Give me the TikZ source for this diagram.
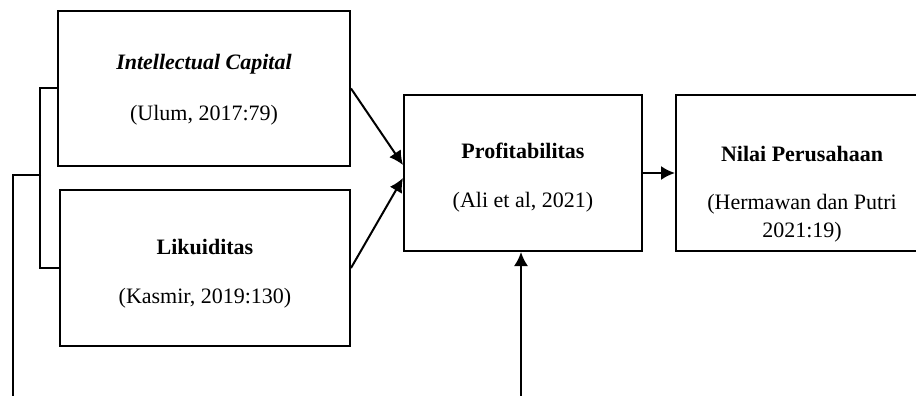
\documentclass[tikz,border=0pt]{standalone}
\usepackage{fontspec}
\setmainfont{Liberation Serif}
\usepackage{tikz}
\usetikzlibrary{arrows.meta}

\tikzset{
    box/.style={draw, line width=2pt, inner sep=0pt},
    txt/.style={anchor=base, inner sep=0pt, font=\fontsize{22}{26}\selectfont},
    arr/.style={line width=2pt, -{Latex[length=14pt,width=14pt]}},
}

\begin{document}
\begin{tikzpicture}[x=1pt,y=-1pt]
                \useasboundingbox (0,0) rectangle (916,396);
                \clip (0,0) rectangle (916,396);
                \node[box, minimum width=292pt, minimum height=155pt] (ic) at (204,88.5) {};
                \node[box, minimum width=290pt, minimum height=156pt] (lk) at (205,268) {};
                \node[box, minimum width=238pt, minimum height=156pt] (pr) at (523,173) {};
                \node[box, minimum width=252pt, minimum height=156pt] (np) at (802,173) {};
                \node[txt] (ic-t) at (204,70) {\textbf{\textit{Intellectual Capital}}};
                \node[txt] (ic-c) at (204,120) {(Ulum, 2017:79)};
                \node[txt] (lk-t) at (205,254) {\textbf{Likuiditas}};
                \node[txt] (lk-c) at (205,303) {(Kasmir, 2019:130)};
                \node[txt] (pr-t) at (523,158) {\textbf{Profitabilitas}};
                \node[txt] (pr-c) at (523,207) {(Ali et al, 2021)};
                \node[txt] (np-t) at (802,161) {\textbf{Nilai Perusahaan}};
                \node[txt] (np-c) at (802,209) {(Hermawan dan Putri};
                \node[txt] (np-d) at (802,237) {2021:19)};
                \draw[arr] (ic.east) -- ([yshift=8pt]pr.west);
                \draw[arr] (lk.east) -- ([yshift=-5pt]pr.west);
                \draw[arr] (pr.east) -- (np.west);
                \coordinate (foot) at (521,400);
                \draw[arr] (foot) -- (foot |- pr.south);
                \draw[line width=2pt] (ic.west) -- ++(-17,0) |- (lk.west);
                \coordinate (fork) at (41,175);
                \coordinate (lend) at (13,400);
                \draw[line width=2pt] (fork) -| (lend);
            \end{tikzpicture}
\end{document}
